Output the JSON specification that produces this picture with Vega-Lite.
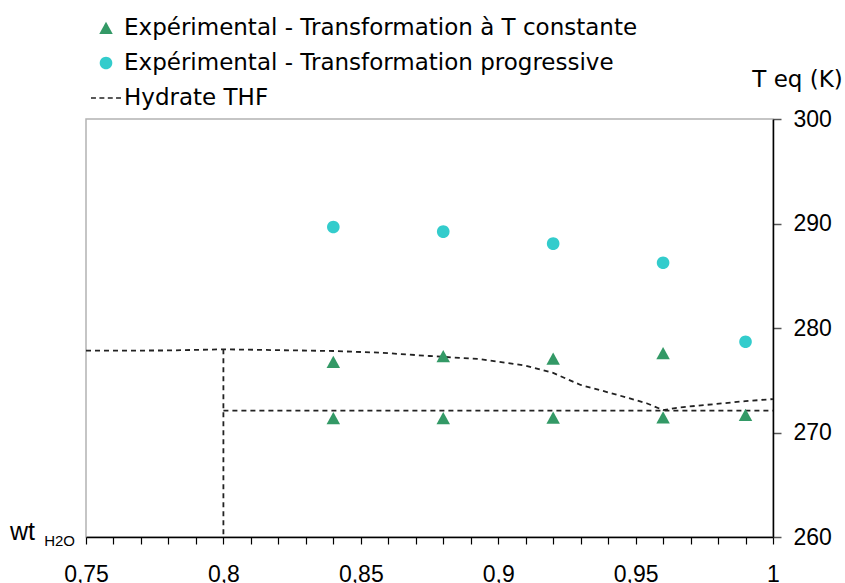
{
  "$schema": "https://vega.github.io/schema/vega-lite/v6.json",
  "width": 687,
  "height": 418,
  "autosize": {"type": "none"},
  "padding": {"left": 86, "top": 119, "right": 72, "bottom": 46},
  "background": "white",
  "config": {
    "view": {"stroke": "#b3b3b3", "strokeWidth": 1.5},
    "font": "Liberation Sans",
    "legend": {
      "orient": "none",
      "legendX": 5,
      "legendY": -106,
      "padding": 0,
      "symbolSize": 900,
      "symbolStrokeWidth": 0,
      "labelFont": "DejaVu Sans",
      "labelFontSize": 23,
      "labelColor": "#000",
      "labelOffset": 3,
      "labelLimit": 700,
      "rowPadding": 8
    }
  },
  "datasets": {
    "hydrate": [
      {"seg": "curve", "i": 1, "wt": 0.75, "T": 277.83},
      {"seg": "curve", "i": 2, "wt": 0.78, "T": 277.85},
      {"seg": "curve", "i": 3, "wt": 0.80, "T": 277.96},
      {"seg": "curve", "i": 4, "wt": 0.84, "T": 277.80},
      {"seg": "curve", "i": 5, "wt": 0.857, "T": 277.64},
      {"seg": "curve", "i": 6, "wt": 0.875, "T": 277.32},
      {"seg": "curve", "i": 7, "wt": 0.893, "T": 277.03},
      {"seg": "curve", "i": 8, "wt": 0.91, "T": 276.4},
      {"seg": "curve", "i": 9, "wt": 0.92, "T": 275.7},
      {"seg": "curve", "i": 10, "wt": 0.93, "T": 274.55},
      {"seg": "curve", "i": 11, "wt": 0.942, "T": 273.7},
      {"seg": "curve", "i": 12, "wt": 0.954, "T": 272.8},
      {"seg": "curve", "i": 13, "wt": 0.96, "T": 272.15},
      {"seg": "curve", "i": 14, "wt": 0.966, "T": 272.4},
      {"seg": "curve", "i": 15, "wt": 0.978, "T": 272.7},
      {"seg": "curve", "i": 16, "wt": 0.99, "T": 273.0},
      {"seg": "curve", "i": 17, "wt": 1.0, "T": 273.2},
      {"seg": "vertical", "i": 1, "wt": 0.8, "T": 277.96},
      {"seg": "vertical", "i": 2, "wt": 0.8, "T": 260},
      {"seg": "horizontal", "i": 1, "wt": 0.8, "T": 272.1},
      {"seg": "horizontal", "i": 2, "wt": 1.0, "T": 272.1}
    ],
    "exp": [
      {"series": "Expérimental - Transformation à T constante", "wt": 0.84, "T": 276.75},
      {"series": "Expérimental - Transformation à T constante", "wt": 0.88, "T": 277.29},
      {"series": "Expérimental - Transformation à T constante", "wt": 0.92, "T": 277.05},
      {"series": "Expérimental - Transformation à T constante", "wt": 0.96, "T": 277.58},
      {"series": "Expérimental - Transformation à T constante", "wt": 0.84, "T": 271.36},
      {"series": "Expérimental - Transformation à T constante", "wt": 0.88, "T": 271.36},
      {"series": "Expérimental - Transformation à T constante", "wt": 0.92, "T": 271.4},
      {"series": "Expérimental - Transformation à T constante", "wt": 0.96, "T": 271.43},
      {"series": "Expérimental - Transformation à T constante", "wt": 0.99, "T": 271.67},
      {"series": "Expérimental - Transformation progressive", "wt": 0.84, "T": 289.67},
      {"series": "Expérimental - Transformation progressive", "wt": 0.88, "T": 289.22},
      {"series": "Expérimental - Transformation progressive", "wt": 0.92, "T": 288.07},
      {"series": "Expérimental - Transformation progressive", "wt": 0.96, "T": 286.25},
      {"series": "Expérimental - Transformation progressive", "wt": 0.99, "T": 278.69}
    ],
    "anchor": [{"wt": 0.75, "T": 260}]
  },
  "encoding": {
    "x": {
      "type": "quantitative",
      "scale": {"domain": [0.75, 1], "nice": false, "zero": false},
      "axis": {
        "orient": "bottom",
        "title": null,
        "grid": false,
        "values": [0.75,0.76,0.77,0.78,0.79,0.8,0.81,0.82,0.83,0.84,0.85,0.86,0.87,0.88,0.89,0.9,0.91,0.92,0.93,0.94,0.95,0.96,0.97,0.98,0.99,1.0],
        "labelExpr": "abs(datum.value*20 - round(datum.value*20)) < 0.001 ? replace(format(datum.value, '.2~f'), '.', ',') : ''",
        "labelOverlap": false,
        "labelFont": "Liberation Sans",
        "labelFontSize": 23,
        "labelColor": "#000",
        "labelBaseline": "alphabetic",
        "labelPadding": 37,
        "labelFlush": false,
        "domainColor": "#000",
        "domainWidth": 1.5,
        "tickColor": "#000",
        "tickWidth": 1.2,
        "tickSize": 7
      }
    },
    "y": {
      "type": "quantitative",
      "scale": {"domain": [260, 300], "nice": false, "zero": false},
      "axis": {
        "orient": "right",
        "title": "T eq (K)",
        "titleAngle": 0,
        "titleAlign": "center",
        "titleBaseline": "alphabetic",
        "titleX": 24,
        "titleY": -33,
        "titleFont": "DejaVu Sans",
        "titleFontSize": 23,
        "titleFontWeight": "normal",
        "titleColor": "#000",
        "grid": false,
        "values": [260, 270, 280, 290, 300],
        "labelFont": "Liberation Sans",
        "labelFontSize": 23,
        "labelColor": "#000",
        "labelPadding": 12,
        "labelFlush": false,
        "domainColor": "#000",
        "domainWidth": 1.5,
        "tickColor": "#555",
        "tickWidth": 1.5,
        "tickSize": 8
      }
    }
  },
  "layer": [
    {
      "data": {"name": "hydrate"},
      "mark": {"type": "line", "color": "#222", "strokeWidth": 1.8, "strokeDash": [5, 4]},
      "encoding": {
        "x": {"field": "wt", "type": "quantitative"},
        "y": {"field": "T", "type": "quantitative"},
        "detail": {"field": "seg"},
        "order": {"field": "i", "type": "quantitative"}
      }
    },
    {
      "data": {"name": "exp"},
      "mark": {"type": "point", "filled": true, "opacity": 1, "size": 900, "strokeWidth": 0},
      "encoding": {
        "x": {"field": "wt", "type": "quantitative"},
        "y": {"field": "T", "type": "quantitative"},
        "color": {
          "field": "series",
          "type": "nominal",
          "title": null,
          "scale": {
            "domain": ["Expérimental - Transformation à T constante", "Expérimental - Transformation progressive", "Hydrate THF"],
            "range": ["#339966", "#33CCCC", "#222222"]
          }
        },
        "shape": {
          "field": "series",
          "type": "nominal",
          "title": null,
          "scale": {
            "domain": ["Expérimental - Transformation à T constante", "Expérimental - Transformation progressive", "Hydrate THF"],
            "range": [
              "M0,-0.42L0.45,0.4L-0.45,0.4Z",
              "M0.42,0A0.42,0.42,0,1,1,-0.42,0A0.42,0.42,0,1,1,0.42,0Z",
              "M-1,-0.05H-0.67V0.05H-1Z M-0.44,-0.05H-0.11V0.05H-0.44Z M0.12,-0.05H0.45V0.05H0.12Z M0.67,-0.05H1V0.05H0.67Z"
            ]
          }
        }
      }
    },
    {
      "data": {"name": "anchor"},
      "mark": {"type": "text", "text": "wt", "align": "right", "baseline": "alphabetic", "dx": -51, "dy": 3, "font": "Liberation Sans", "fontSize": 25, "color": "#000"},
      "encoding": {"x": {"field": "wt", "type": "quantitative"}, "y": {"field": "T", "type": "quantitative"}}
    },
    {
      "data": {"name": "anchor"},
      "mark": {"type": "text", "text": "H2O", "align": "right", "baseline": "alphabetic", "dx": -11, "dy": 9, "font": "Liberation Sans", "fontSize": 15, "color": "#000"},
      "encoding": {"x": {"field": "wt", "type": "quantitative"}, "y": {"field": "T", "type": "quantitative"}}
    }
  ]
}
